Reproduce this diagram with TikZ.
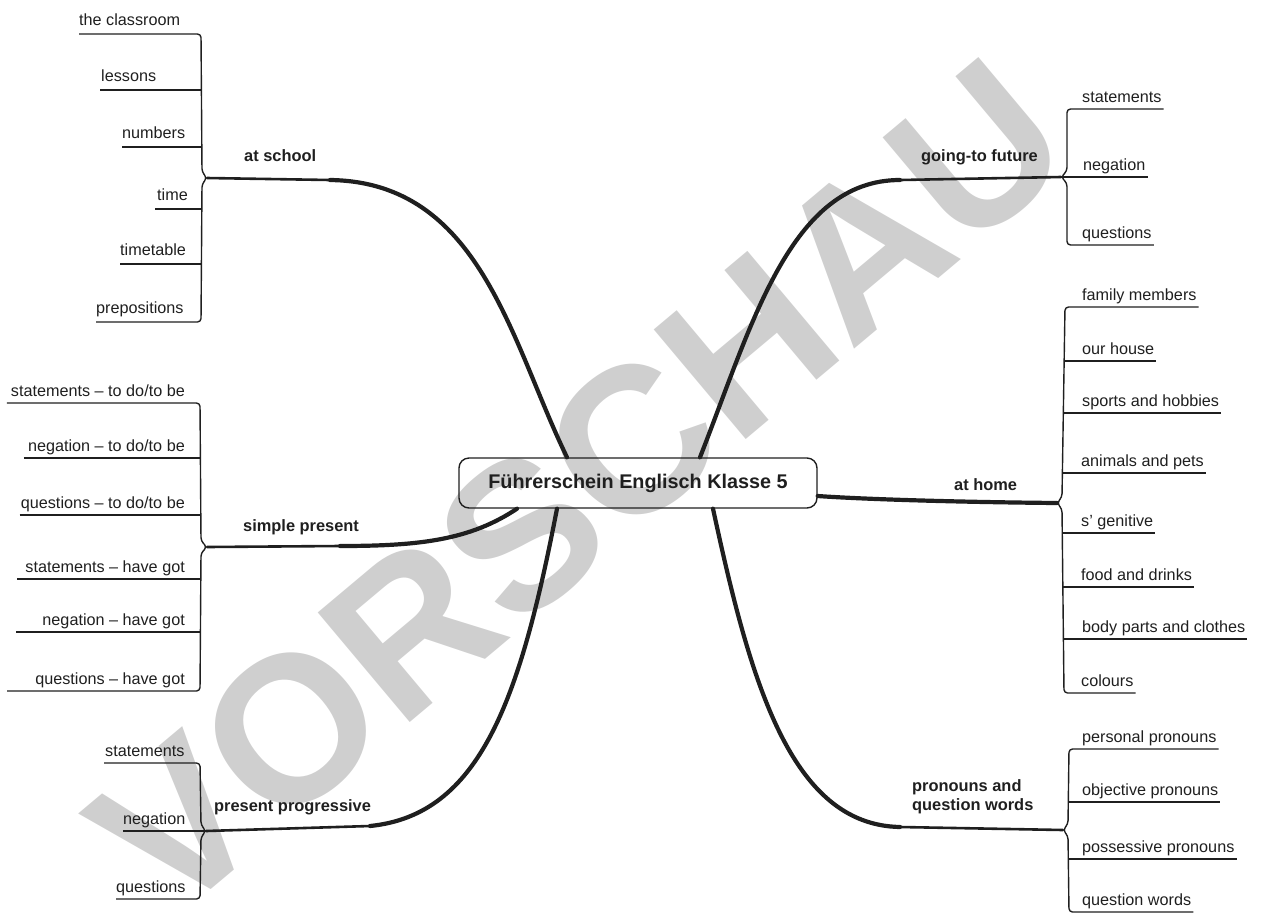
\documentclass[tikz,border=0pt]{standalone}
\usepackage{fontspec}
\setmainfont{Liberation Sans}
\usetikzlibrary{calc}
\definecolor{ink}{HTML}{1F1F1F}
\definecolor{wmgray}{HTML}{CFCFCF}
\newcommand\leaffont{\fontsize{16.2}{19}\selectfont}
\newcommand\topicfont{\bfseries\fontsize{16.4}{19}\selectfont}
\begin{document}
\begin{tikzpicture}[x=1pt,y=-1pt,
  twig/.style={line width=1.4pt, draw=ink, rounded corners=3.5pt, line join=round},
  limb/.style={line width=4.2pt, draw=ink, line cap=round},
  limbthin/.style={line width=2.6pt, draw=ink, line cap=round},
  leaf/.style={font=\leaffont, inner sep=0pt, text=ink},
  topic/.style={font=\topicfont, inner sep=0pt, text=ink, align=left},
  titlebox/.style={draw=ink, line width=1.4pt, rounded corners=10pt, minimum width=358pt,
    minimum height=50pt, inner sep=0pt, text=ink, font=\bfseries\fontsize{19.8}{22}\selectfont},
]
\useasboundingbox (0,0) rectangle (1262,914);

% watermark
\node[rotate=40, text=wmgray, font=\bfseries\fontsize{208}{208}\selectfont, inner sep=0pt] (wm) at (579,487) {VORSCHAU};

% central node
\node[titlebox] (title) at (638,483) {Führerschein Englisch Klasse 5};

% bracket tips
\coordinate (tipS) at (207,178);
\coordinate (tipG) at (1061,177);
\coordinate (tipH) at (1057,503);
\coordinate (tipP) at (207,547);
\coordinate (tipR) at (206,831);
\coordinate (tipQ) at (1063,830);

% main branches
\draw[limbthin] (tipS) -- (330,180);
\draw[limb] (330,180) .. controls (480,182) and (510,340) .. ($(title.north)+(-71,0)$);
\draw[limb] ($(title.north)+(62,0)$) .. controls (752,325) and (790,180) .. (900,180);
\draw[limbthin] (900,180) -- (tipG);
\draw[limb] ($(title.east)+(0,13)$) .. controls (860,499) and (950,502) .. (tipH);
\draw[limb] ($(title.south)+(-121,0)$) .. controls (470,540) and (420,546) .. (340,546);
\draw[limbthin] (340,546) -- (tipP);
\draw[limb] ($(title.south)+(-81,0)$) .. controls (520,700) and (480,815) .. (370,826);
\draw[limbthin] (370,826) -- (tipR);
\draw[limb] ($(title.south)+(75,0)$) .. controls (750,680) and (790,825) .. (900,827);
\draw[limbthin] (900,827) -- (tipQ);

% topic labels
\node[topic, anchor=base west] (tSchool) at (244,161) {at school};
\node[topic, anchor=base west] (tGoing) at (921,161) {going-to future};
\node[topic, anchor=base west] (tHome) at (954,490) {at home};
\node[topic, anchor=base west] (tSimple) at (243,531) {simple present};
\node[topic, anchor=base west] (tProg) at (214,811) {present progressive};
\node[topic, anchor=north west] (tPron) at (912,779) {pronouns and\\question words};

% at school leaves
\node[leaf, anchor=base west] (s1) at (79,25) {the classroom};
\node[leaf, anchor=base west] (s2) at (101,81) {lessons};
\node[leaf, anchor=base west] (s3) at (122,138) {numbers};
\node[leaf, anchor=base west] (s4) at (157,200) {time};
\node[leaf, anchor=base west] (s5) at (120,255) {timetable};
\node[leaf, anchor=base west] (s6) at (96,313) {prepositions};
\draw[twig] ($(s1.base west)+(0,9)$) -- (201,34) -- (202,172) -- (tipS) -- (202,184) -- (201,322) -- ($(s6.base west)+(0,9)$);
\draw[twig] ($(s2.base west)+(-1,9)$) -- (201,90);
\draw[twig] ($(s3.base west)+(0,9)$) -- (202,147);
\draw[twig] ($(s4.base west)+(-2,9)$) -- (202,209);
\draw[twig] ($(s5.base west)+(0,9)$) -- (202,264);

% simple present leaves
\node[leaf, anchor=base east] (p1) at (185,396) {statements – to do/to be};
\node[leaf, anchor=base east] (p2) at (185,451) {negation – to do/to be};
\node[leaf, anchor=base east] (p3) at (185,508) {questions – to do/to be};
\node[leaf, anchor=base east] (p4) at (185,572) {statements – have got};
\node[leaf, anchor=base east] (p5) at (185,625) {negation – have got};
\node[leaf, anchor=base east] (p6) at (185,684) {questions – have got};
\draw[twig] ($(p1.base west)+(-4,7)$) -- (200,403) -- (201,541) -- (tipP) -- (201,553) -- (200,691) -- ($(p6.base west)+(-28,7)$);
\draw[twig] ($(p2.base west)+(-4,7)$) -- (201,458);
\draw[twig] ($(p3.base west)+(-1,7)$) -- (201,515);
\draw[twig] ($(p4.base west)+(-8,7)$) -- (201,579);
\draw[twig] ($(p5.base west)+(-26,7)$) -- (201,632);

% present progressive leaves
\node[leaf, anchor=base west] (g1) at (105,756) {statements};
\node[leaf, anchor=base west] (g2) at (123,824) {negation};
\node[leaf, anchor=base west] (g3) at (116,892) {questions};
\draw[twig] ($(g1.base west)+(-1,7)$) -- (200,763) -- (201,825) -- (tipR) -- (201,837) -- (200,899) -- ($(g3.base west)+(0,7)$);
\draw[twig] ($(g2.base west)+(0,7)$) -- (tipR);

% going-to future leaves
\node[leaf, anchor=base west] (f1) at (1082,102) {statements};
\node[leaf, anchor=base west] (f2) at (1083,170) {negation};
\node[leaf, anchor=base west] (f3) at (1082,238) {questions};
\draw[twig] ($(f1.base east)+(2,7)$) -- (1067,109) -- (1067,171) -- (tipG) -- (1067,183) -- (1067,245) -- ($(f3.base east)+(2,7)$);
\draw[twig] (tipG) -- ($(f2.base east)+(2,7)$);

% at home leaves
\node[leaf, anchor=base west] (h1) at (1082,300) {family members};
\node[leaf, anchor=base west] (h2) at (1082,354) {our house};
\node[leaf, anchor=base west] (h3) at (1082,406) {sports and hobbies};
\node[leaf, anchor=base west] (h4) at (1081,466) {animals and pets};
\node[leaf, anchor=base west] (h5) at (1081,526) {s’ genitive};
\node[leaf, anchor=base west] (h6) at (1081,580) {food and drinks};
\node[leaf, anchor=base west] (h7) at (1082,632) {body parts and clothes};
\node[leaf, anchor=base west] (h8) at (1081,686) {colours};
\draw[twig] ($(h1.base east)+(2,7)$) -- (1065,307) -- (1062,497) -- (tipH) -- (1062,509) -- (1064,693) -- ($(h8.base east)+(2,7)$);
\draw[twig] (1064,361) -- ($(h2.base east)+(2,7)$);
\draw[twig] (1063,413) -- ($(h3.base east)+(2,7)$);
\draw[twig] (1062,473) -- ($(h4.base east)+(2,7)$);
\draw[twig] (1062,533) -- ($(h5.base east)+(2,7)$);
\draw[twig] (1063,587) -- ($(h6.base east)+(2,7)$);
\draw[twig] (1063,639) -- ($(h7.base east)+(2,7)$);

% pronouns leaves
\node[leaf, anchor=base west] (r1) at (1082,742) {personal pronouns};
\node[leaf, anchor=base west] (r2) at (1082,795) {objective pronouns};
\node[leaf, anchor=base west] (r3) at (1082,852) {possessive pronouns};
\node[leaf, anchor=base west] (r4) at (1082,905) {question words};
\draw[twig] ($(r1.base east)+(2,7)$) -- (1069,749) -- (1068,824) -- (tipQ) -- (1068,836) -- (1069,912) -- ($(r4.base east)+(2,7)$);
\draw[twig] (1068,802) -- ($(r2.base east)+(2,7)$);
\draw[twig] (1068,859) -- ($(r3.base east)+(2,7)$);
\end{tikzpicture}
\end{document}
